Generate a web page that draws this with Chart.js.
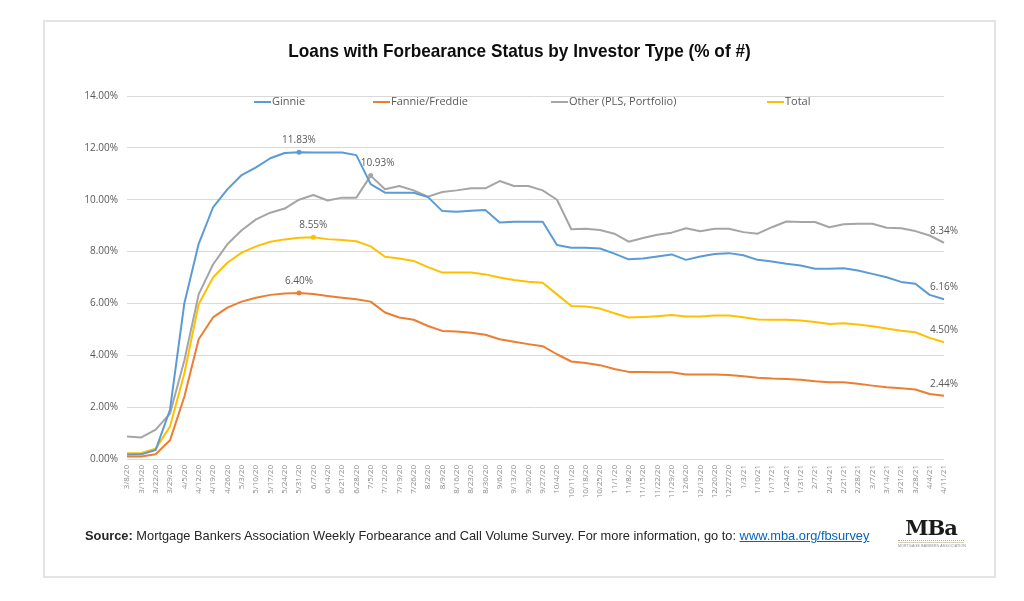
<!DOCTYPE html>
<html>
<head>
<meta charset="utf-8">
<script src="https://cdn.jsdelivr.net/npm/chart.js@4"></script>
<style>
	body{margin:0;background:#fff;width:1024px;height:601px;overflow:hidden;position:relative;}
	#frame{position:absolute;left:43px;top:20px;width:953px;height:558px;border:2px solid #e4e4e4;box-sizing:border-box;}
	#title{position:absolute;left:43px;top:40px;width:953px;text-align:center;font:bold 18.5px "Liberation Sans Narrow","Arial Narrow","Liberation Sans",sans-serif;color:#0d0d0d;transform:scaleX(0.93);}
	#source{position:absolute;left:85px;top:528px;font:13.5px "Liberation Sans Narrow","Arial Narrow","Liberation Sans",sans-serif;color:#262626;white-space:nowrap;transform:scaleX(0.95);transform-origin:left center;}
	#source a{color:#0563c1;text-decoration:underline;}
	#logo{position:absolute;left:898px;top:518px;width:66px;text-align:center;}
	#logo .big{font:bold 21px "DejaVu Serif",serif;color:#1a1a1a;letter-spacing:-1px;line-height:20px;}
	#logo .bar{height:1px;border-top:1px dotted #b8ad8a;border-bottom:1px solid #d8d0b8;margin:2px 0 1px 0;}
	#logo .small{font:3.5px "Liberation Sans",sans-serif;color:#888;letter-spacing:0.2px;white-space:nowrap;}
	#chart{position:absolute;left:0;top:0;}
</style>
</head>
<body>
	<div id="frame"></div>
	<canvas id="chart" width="1024" height="601"></canvas>
	<div id="title">Loans with Forbearance Status by Investor Type (% of #)</div>
	<div id="source"><b>Source:</b> Mortgage Bankers Association Weekly Forbearance and Call Volume Survey. For more information, go to: <a>www.mba.org/fbsurvey</a></div>
	<div id="logo"><div class="big">MBa</div><div class="bar"></div><div class="small">MORTGAGE BANKERS ASSOCIATION</div></div>
<script>
	// weekly survey dates
	var weeks = ["3/8/20","3/15/20","3/22/20","3/29/20","4/5/20","4/12/20","4/19/20","4/26/20","5/3/20","5/10/20","5/17/20","5/24/20","5/31/20","6/7/20","6/14/20","6/21/20","6/28/20","7/5/20","7/12/20","7/19/20","7/26/20","8/2/20","8/9/20","8/16/20","8/23/20","8/30/20","9/6/20","9/13/20","9/20/20","9/27/20","10/4/20","10/11/20","10/18/20","10/25/20","11/1/20","11/8/20","11/15/20","11/22/20","11/29/20","12/6/20","12/13/20","12/20/20","12/27/20","1/3/21","1/10/21","1/17/21","1/24/21","1/31/21","2/7/21","2/14/21","2/21/21","2/28/21","3/7/21","3/14/21","3/21/21","3/28/21","4/4/21","4/11/21"];

	var ginnie = [0.17,0.18,0.35,1.9,6.0,8.3,9.7,10.4,10.95,11.25,11.6,11.8,11.83,11.82,11.82,11.82,11.72,10.6,10.27,10.27,10.27,10.1,9.56,9.54,9.57,9.6,9.12,9.15,9.15,9.15,8.25,8.15,8.15,8.12,7.92,7.7,7.73,7.81,7.89,7.68,7.81,7.91,7.94,7.86,7.68,7.62,7.53,7.46,7.34,7.34,7.36,7.27,7.14,7.01,6.83,6.76,6.33,6.16];
	var fannieFreddie = [0.1,0.1,0.18,0.72,2.4,4.62,5.46,5.84,6.07,6.22,6.33,6.38,6.40,6.36,6.29,6.22,6.16,6.07,5.65,5.46,5.37,5.13,4.94,4.92,4.87,4.79,4.62,4.52,4.43,4.35,4.04,3.76,3.7,3.62,3.47,3.36,3.36,3.35,3.35,3.26,3.26,3.26,3.24,3.19,3.13,3.1,3.09,3.06,3.0,2.96,2.96,2.9,2.83,2.77,2.73,2.68,2.51,2.44];
	var other = [0.87,0.83,1.13,1.75,3.8,6.35,7.5,8.28,8.82,9.24,9.5,9.66,10.0,10.18,9.97,10.08,10.08,10.93,10.4,10.53,10.36,10.12,10.3,10.36,10.44,10.44,10.72,10.53,10.53,10.36,10.0,8.86,8.88,8.83,8.69,8.38,8.52,8.65,8.73,8.9,8.78,8.88,8.88,8.75,8.69,8.94,9.16,9.14,9.14,8.94,9.05,9.07,9.07,8.92,8.9,8.79,8.62,8.34];
	var total = [0.22,0.23,0.4,1.25,3.3,5.97,7.0,7.57,7.96,8.2,8.38,8.47,8.53,8.55,8.48,8.45,8.4,8.2,7.8,7.73,7.64,7.4,7.19,7.19,7.19,7.12,7.0,6.9,6.84,6.8,6.35,5.9,5.88,5.8,5.62,5.46,5.48,5.51,5.55,5.5,5.5,5.53,5.53,5.47,5.38,5.37,5.37,5.34,5.28,5.21,5.24,5.19,5.12,5.03,4.95,4.89,4.67,4.5];

	var seriesNames = ["Ginnie","Fannie/Freddie","Other (PLS, Portfolio)","Total"];
	var seriesColors = ["#5b9bd5","#ed7d31","#a5a5a5","#ffc000"];
	var yTicks = [0,2,4,6,8,10,12,14];

	function peakOf(arr){
		return arr.indexOf(Math.max.apply(null,arr));
	}

	function makeSet(i,values,dx){
		var peak = peakOf(values);
		return {
			label:seriesNames[i],
			data:values,
			borderColor:seriesColors[i],
			backgroundColor:seriesColors[i],
			borderWidth:2,
			tension:0,
			borderJoinStyle:"round",
			pointRadius:function(ctx){ return ctx.dataIndex==peak ? 2.5 : 0; },
			pointBorderWidth:0,
			labelIdx:[peak,values.length-1],
			labelDx:dx||0
		};
	}

	// value labels above the peak and the last point
	var valueLabels = {
		id:"valueLabels",
		afterDatasetsDraw:function(chart){
			var ctx = chart.ctx;
			ctx.save();
			ctx.font = "10px 'Open Sans', sans-serif";
			ctx.fillStyle = "#595959";
			ctx.textAlign = "center";
			ctx.textBaseline = "middle";
			chart.data.datasets.forEach(function(ds,di){
				var meta = chart.getDatasetMeta(di);
				ds.labelIdx.forEach(function(k,n){
					var p = meta.data[k];
					var dx = n==0 ? ds.labelDx : 0;
					ctx.fillText(ds.data[k].toFixed(2)+"%",p.x+dx,p.y-12);
				});
			});
			ctx.restore();
		}
	};

	// legend laid inside the plot, below the top gridline
	var legendX = [254,373,551,767];
	var insideLegend = {
		id:"insideLegend",
		afterDraw:function(chart){
			var ctx = chart.ctx;
			var y = chart.chartArea.top + 6;
			ctx.save();
			ctx.font = "11px 'Open Sans', sans-serif";
			ctx.textBaseline = "middle";
			ctx.textAlign = "left";
			chart.data.datasets.forEach(function(ds,i){
				ctx.strokeStyle = ds.borderColor;
				ctx.lineWidth = 2;
				ctx.beginPath();
				ctx.moveTo(legendX[i],y);
				ctx.lineTo(legendX[i]+17,y);
				ctx.stroke();
				ctx.fillStyle = "#595959";
				ctx.fillText(ds.label,legendX[i]+18,y);
			});
			ctx.restore();
		}
	};

	var target = document.getElementById("chart").getContext("2d");
	var lineChart = new Chart(target,{
		type:"line",
		data:{
			labels:weeks,
			datasets:[
				makeSet(0,ginnie),
				makeSet(1,fannieFreddie),
				makeSet(2,other,7),
				makeSet(3,total)
			]
		},
		options:{
			responsive:false,
			animation:false,
			layout:{padding:{left:60,right:80,top:96,bottom:90}},
			plugins:{
				legend:{display:false},
				tooltip:{enabled:false}
			},
			scales:{
				x:{
					offset:false,
					grid:{display:false},
					border:{display:false},
					ticks:{
						autoSkip:false,
						minRotation:90,
						maxRotation:90,
						padding:-2,
						color:"#8c8c8c",
						font:{family:"'Open Sans', sans-serif",size:8}
					},
					afterFit:function(scale){ scale.height = 52; }
				},
				y:{
					min:0,
					max:14,
					afterBuildTicks:function(scale){
						scale.ticks = yTicks.map(function(v){ return {value:v}; });
					},
					grid:{color:"#d9d9d9",drawTicks:false},
					border:{display:false},
					ticks:{
						padding:9,
						color:"#595959",
						font:{family:"'Open Sans', sans-serif",size:10},
						callback:function(v){ return v.toFixed(2)+"%"; }
					},
					afterFit:function(scale){ scale.width = 67; }
				}
			}
		},
		plugins:[valueLabels,insideLegend]
	});
</script>
</body>
</html>
